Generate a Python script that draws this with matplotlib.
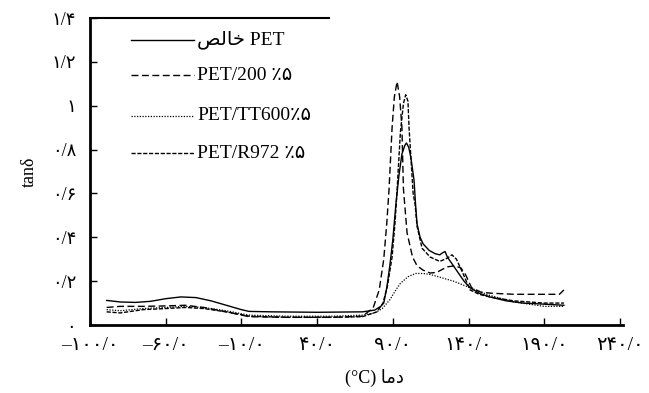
import matplotlib
matplotlib.use("Agg")
import matplotlib.pyplot as plt
from matplotlib.lines import Line2D

plt.rcParams['font.family'] = ['Liberation Serif', 'DejaVu Sans']

# ---- data (x in °C, y = tan delta) ----
pet_x = [-99, -90, -80, -70, -60, -50, -40, -30, -20, -10, -5, 10, 40, 70, 78, 82, 84, 86, 88, 90,
         92, 94, 96, 98, 99, 100.5, 102, 104, 105, 106, 108, 110, 114, 118, 121, 123, 124.5, 126, 130,
         133, 137, 141, 147, 154, 165, 176, 190, 203]
pet_y = [0.112, 0.105, 0.103, 0.108, 0.12, 0.128, 0.125, 0.11, 0.09, 0.07, 0.062, 0.06, 0.058, 0.06,
         0.068, 0.085, 0.10, 0.17, 0.27, 0.39, 0.55, 0.68, 0.78, 0.82, 0.83, 0.81, 0.76, 0.66, 0.55,
         0.46, 0.40, 0.37, 0.34, 0.325, 0.32, 0.33, 0.335, 0.31, 0.27, 0.24, 0.20, 0.17, 0.145, 0.128,
         0.11, 0.10, 0.095, 0.09]

p200_x = [-99, -90, -75, -60, -47, -35, -20, -5, 20, 50, 70, 77, 81, 84, 86, 87.5, 89.5, 91, 92.8,
          94.5, 96, 97, 99.4, 103, 106, 110, 114.6, 119, 125.8, 131, 135, 138, 142, 148, 155, 170,
          185, 200, 203]
p200_y = [0.08, 0.085, 0.085, 0.087, 0.09, 0.08, 0.06, 0.038, 0.035, 0.035, 0.04, 0.078, 0.16, 0.30,
          0.465, 0.62, 0.90, 1.04, 1.11, 1.04, 0.90, 0.62, 0.42, 0.31, 0.27, 0.25, 0.237, 0.24, 0.265,
          0.27, 0.26, 0.23, 0.17, 0.15, 0.145, 0.14, 0.14, 0.14, 0.16]

tt_x = [-99, -90, -75, -60, -47, -35, -20, -5, 20, 50, 70, 78, 83, 88, 92, 95, 100, 105, 110, 115,
        120, 130, 141, 154, 170, 190, 203]
tt_y = [0.07, 0.065, 0.075, 0.08, 0.085, 0.08, 0.065, 0.045, 0.04, 0.04, 0.045, 0.055, 0.075, 0.115,
        0.16, 0.19, 0.22, 0.235, 0.235, 0.23, 0.22, 0.2, 0.17, 0.135, 0.105, 0.085, 0.085]

r972_x = [-99, -90, -75, -60, -47, -35, -20, -5, 20, 50, 70, 79.5, 83.5, 86.5, 89.5, 91.5, 92.8, 95,
          97, 98.5, 100, 100.7, 103.4, 104.7, 106, 109.3, 114.6, 121, 126, 129, 132, 136, 141, 147,
          154, 170, 190, 203]
r972_y = [0.06, 0.055, 0.07, 0.075, 0.08, 0.075, 0.06, 0.04, 0.035, 0.035, 0.038, 0.06, 0.10, 0.18,
          0.31, 0.47, 0.615, 0.88, 1.01, 1.05, 1.02, 0.90, 0.60, 0.55, 0.45, 0.35, 0.31, 0.29, 0.305,
          0.32, 0.30, 0.24, 0.16, 0.14, 0.128, 0.11, 0.10, 0.10]

xtick_pos = [-110, -60, -10, 40, 90, 140, 190, 240]
xtick_labels = ['–۱۰۰/۰', '–۶۰/۰', '–۱۰/۰', '۴۰/۰', '۹۰/۰', '۱۴۰/۰', '۱۹۰/۰', '۲۴۰/۰']
ytick_pos = [0, 0.2, 0.4, 0.6, 0.8, 1.0, 1.2, 1.4]
ytick_labels = ['۰', '۰/۲', '۰/۴', '۰/۶', '۰/۸', '۱', '۱/۲', '۱/۴']

series_labels = ['\uFEBA\uFEDF\uFE8E\uFEA7 PET', 'PET/200 ٪۵', 'PET/TT600٪۵', 'PET/R972 ٪۵']

W, H = 649, 393
fig = plt.figure(figsize=(W / 100, H / 100), dpi=100)
L, R, B, T = 90, 623, 325, 18
ax = fig.add_axes([L / W, 1 - B / H, (R - L) / W, (B - T) / H])

styles = [
    dict(linestyle='-'),
    dict(linestyle=(0, (5, 2.5))),
    dict(linestyle=(0, (1, 1.2))),
    dict(linestyle=(0, (3, 1.2))),
]
data = [(pet_x, pet_y), (p200_x, p200_y), (tt_x, tt_y), (r972_x, r972_y)]
lws = [1.0, 1.0, 0.9, 1.0]
for (xs, ys), st, lw in zip(data, styles, lws):
    ax.plot(xs, ys, color='black', lw=lw, **st)

ax.set_xlim(-110, 242)
ax.set_ylim(0, 1.4)
ax.set_xticks(xtick_pos)
ax.set_xticklabels(xtick_labels, fontsize=14)
ax.set_yticks(ytick_pos)
ax.set_yticklabels(ytick_labels, fontsize=13)
ax.tick_params(direction='in', length=5, width=1)
ax.tick_params(axis='x', pad=9)
ax.tick_params(axis='y', pad=10)

ax.spines['right'].set_visible(False)
ax.spines['left'].set_linewidth(2)
ax.spines['bottom'].set_linewidth(2)
ax.spines['top'].set_linewidth(1.5)
ax.spines['top'].set_bounds(-110, 48)

ax.set_ylabel('tanδ', fontsize=13, labelpad=10)
fig.text(374 / W, 1 - 378 / H, '(°C) \uFE8E\uFEE3\uFEA9', fontsize=13, ha='center', va='center')

# legend drawn manually
leg_y = [40, 75, 116, 153]
for yy, st, lw, lab in zip(leg_y, styles, lws, series_labels):
    fig.add_artist(Line2D([131 / W, 194 / W], [1 - yy / H, 1 - yy / H], color='black', lw=lw,
                          transform=fig.transFigure, **st))
    fig.text(197 / W, 1 - yy / H, lab, fontsize=14, ha='left', va='center')

fig.savefig('out.png', dpi=100)
